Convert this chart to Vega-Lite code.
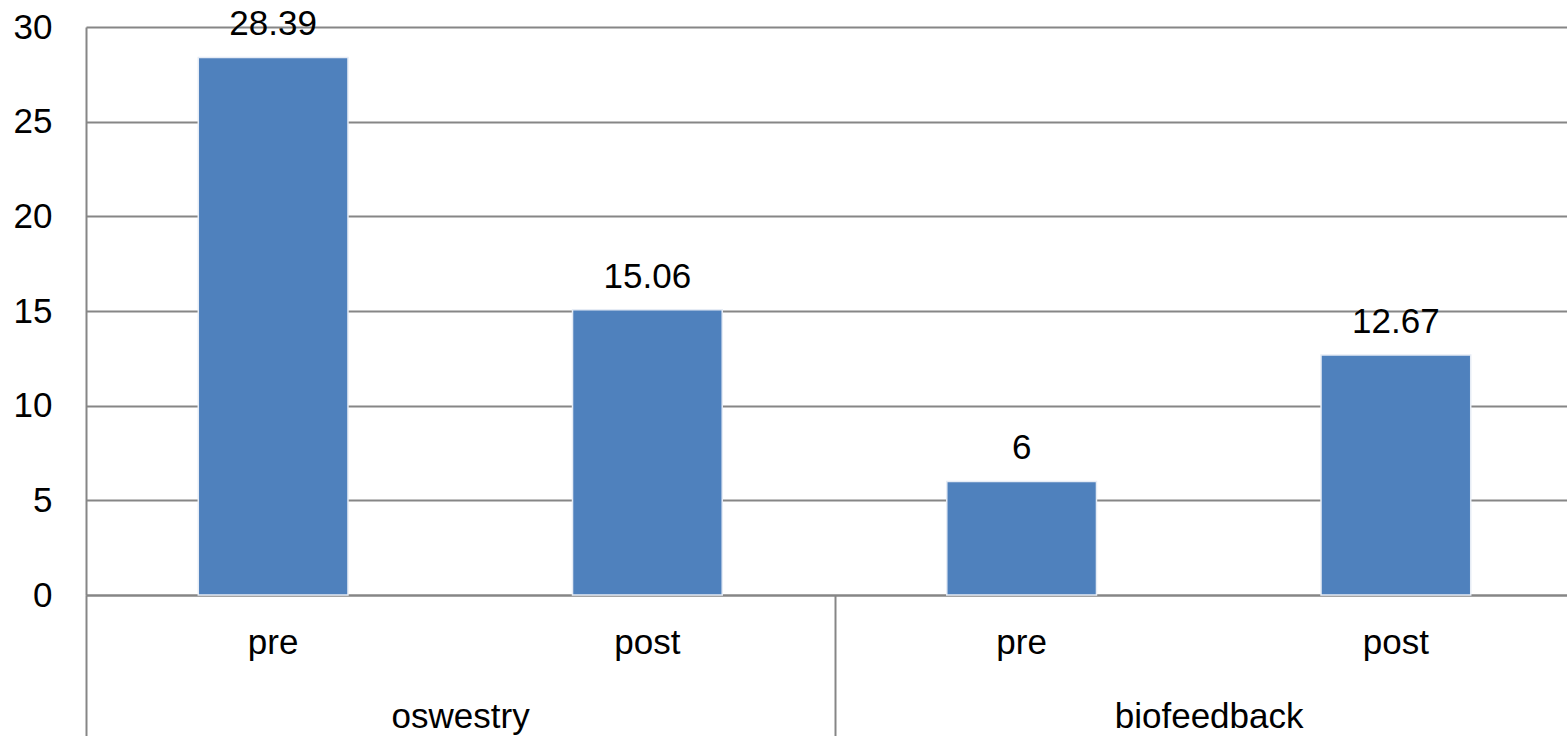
{
  "$schema": "https://vega.github.io/schema/vega-lite/v6.json",
  "width": 1481,
  "height": 568,
  "autosize": {"type": "none"},
  "padding": {"left": 86, "top": 27, "right": 0, "bottom": 141},
  "background": "white",
  "config": {
    "view": {"stroke": null},
    "font": "Liberation Sans",
    "axis": {"labelColor": "#000000", "labelFont": "Liberation Sans", "labelLimit": 0}
  },
  "data": {
    "values": [
      {"cat": "oswestry|pre", "group": "oswestry", "phase": "pre", "score": 28.39},
      {"cat": "oswestry|post", "group": "oswestry", "phase": "post", "score": 15.06},
      {"cat": "biofeedback|pre", "group": "biofeedback", "phase": "pre", "score": 6},
      {"cat": "biofeedback|post", "group": "biofeedback", "phase": "post", "score": 12.67}
    ]
  },
  "layer": [
    {
      "mark": {"type": "bar", "color": "#4F81BD", "width": {"band": 0.4}, "stroke": "#e6ecf5", "strokeWidth": 1.5},
      "encoding": {
        "x": {
          "field": "cat", "type": "nominal", "sort": null,
          "scale": {"type": "band", "range": [0, 1497], "paddingInner": 0, "paddingOuter": 0},
          "axis": {
            "orient": "bottom", "title": null,
            "labelExpr": "split(datum.value, '|')[1]",
            "labelFontSize": 35, "labelAngle": 0, "labelBaseline": "alphabetic", "labelPadding": 58,
            "ticks": false, "grid": false,
            "domain": true, "domainColor": "#868686", "domainWidth": 2
          }
        },
        "y": {
          "field": "score", "type": "quantitative",
          "scale": {"domain": [0, 30], "nice": false, "zero": true},
          "axis": {
            "title": null, "values": [0, 5, 10, 15, 20, 25, 30],
            "labelFontSize": 35, "labelPadding": 34,
            "ticks": false, "domain": true, "domainColor": "#868686", "domainWidth": 2,
            "grid": true, "gridColor": "#868686", "gridWidth": 2
          }
        }
      }
    },
    {
      "mark": {"type": "text", "baseline": "alphabetic", "dy": -22, "fontSize": 35, "color": "#000000"},
      "encoding": {
        "x": {
          "field": "cat", "type": "nominal", "sort": null,
          "axis": {
            "orient": "bottom", "title": null,
            "labelExpr": "datum.value && indexof(datum.value, '|pre') > 0 ? split(datum.value, '|')[0] : ''",
            "labelOffset": 187, "labelFontSize": 35, "labelAngle": 0, "labelBaseline": "alphabetic", "labelPadding": -9,
            "ticks": true, "tickBand": "extent", "tickSize": 141, "tickWidth": 2, "tickColor": "#868686",
            "tickOpacity": {"condition": {"test": "datum.value == 'oswestry|post' || datum.index < 0", "value": 1}, "value": 0},
            "domain": false, "grid": false
          }
        },
        "y": {"field": "score", "type": "quantitative"},
        "text": {"field": "score", "type": "nominal"}
      }
    }
  ],
  "resolve": {"scale": {"x": "shared", "y": "shared"}, "axis": {"x": "independent"}}
}
